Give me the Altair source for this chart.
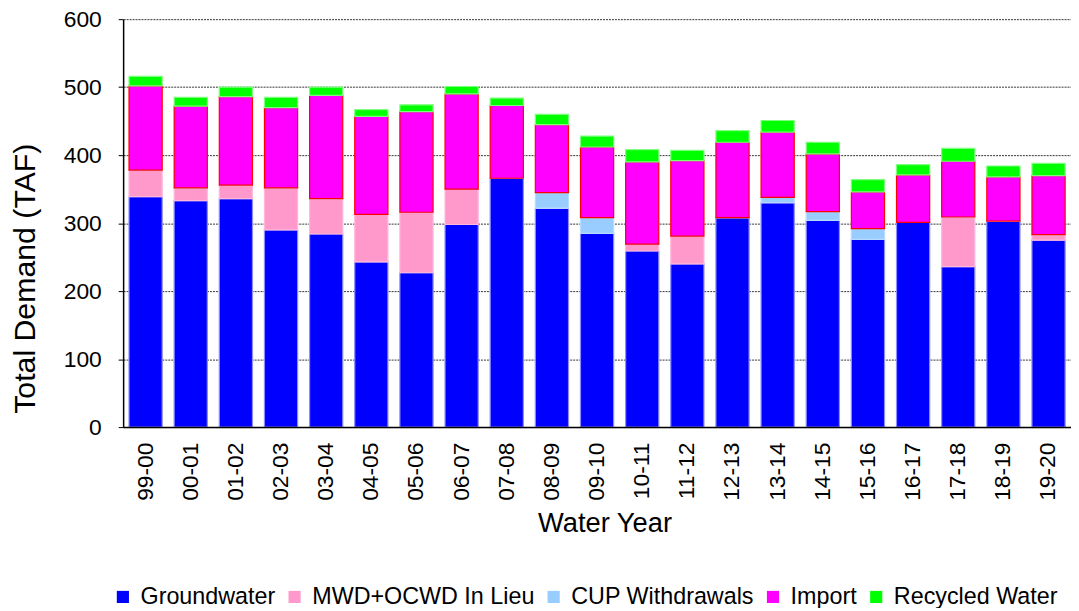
import altair as alt
import pandas as pd

years = ["99-00", "00-01", "01-02", "02-03", "03-04", "04-05", "05-06", "06-07",
         "07-08", "08-09", "09-10", "10-11", "11-12", "12-13", "13-14", "14-15",
         "15-16", "16-17", "17-18", "18-19", "19-20"]
groundwater = [339, 333, 336, 290, 284, 243, 227, 298, 366, 322, 285, 259, 240, 308, 330, 304, 276, 301, 236, 303, 275]
in_lieu = [39, 19, 20, 62, 52, 70, 89, 52, 0, 0, 0, 10, 41, 0, 0, 0, 0, 0, 73, 0, 8]
cup = [0, 0, 0, 0, 0, 0, 0, 0, 0, 23, 23, 0, 0, 0, 8, 13, 16, 0, 0, 0, 0]
imports = [124, 120, 130, 118, 152, 144, 148, 140, 107, 100, 104, 121, 111, 111, 96, 85, 54, 70, 82, 65, 87]
recycled = [14, 13, 14, 15, 12, 10, 10, 11, 11, 15, 16, 18, 15, 17, 17, 17, 18, 15, 19, 16, 18]

series_names = ["Groundwater", "MWD+OCWD In Lieu", "CUP Withdrawals", "Import", "Recycled Water"]
series_values = [groundwater, in_lieu, cup, imports, recycled]
fill_colors = ["#0000FF", "#FF99CC", "#99CCFF", "#FF00FF", "#00FF00"]
stroke_colors = ["#8c8cff", "#ffb8dc", "#b8dcff", "#FF0000", "#7dff7d"]

rows = []
for idx, (name, vals) in enumerate(zip(series_names, series_values)):
    for yr, v in zip(years, vals):
        rows.append({"year": yr, "series": name, "value": v, "idx": idx})
df = pd.DataFrame(rows)

FONT = "Liberation Sans"

chart = alt.Chart(df).mark_bar(strokeWidth=1.2).encode(
    x=alt.X("year:N", sort=years,
            scale=alt.Scale(paddingInner=0.265, paddingOuter=0.13),
            axis=alt.Axis(title="Water Year", labelAngle=-90, ticks=False, tickSize=0,
                          labelPadding=15, labelFontSize=23, titleFontSize=27.5,
                          titlePadding=9, titleFontWeight="normal",
                          titleX=485, titleAlign="center",
                          domainColor="black", domainWidth=1.5, zindex=1,
                          labelColor="black", titleColor="black")),
    y=alt.Y("value:Q", stack="zero",
            scale=alt.Scale(domain=[0, 600], nice=False),
            axis=alt.Axis(title="Total Demand (TAF)", values=[0, 100, 200, 300, 400, 500, 600],
                          tickSize=5, tickColor="black", labelPadding=17,
                          labelFontSize=23, titleFontSize=30.5, titlePadding=23,
                          titleY=261, titleAlign="center",
                          titleFontWeight="normal", domainColor="black", domainWidth=1.5,
                          grid=True, gridColor="#333333", gridDash=[2, 1], gridWidth=1,
                          labelColor="black", titleColor="black")),
    color=alt.Color("series:N", sort=series_names,
                    scale=alt.Scale(domain=series_names, range=fill_colors),
                    legend=alt.Legend(title=None, orient="none", legendX=-12, legendY=570,
                                      direction="horizontal", symbolType="square",
                                      symbolSize=150, symbolStrokeWidth=0,
                                      labelFontSize=23.5, labelOffset=6, columnPadding=7,
                                      labelLimit=500, labelColor="black")),
    stroke=alt.Stroke("series:N", scale=alt.Scale(domain=series_names, range=stroke_colors),
                      legend=None),
    order=alt.Order("idx:Q", sort="ascending"),
).properties(
    width=955,
    height=411,
    autosize=alt.AutoSizeParams(type="none"),
    padding={"left": 116, "top": 9, "right": 0, "bottom": 180},
).configure(
    font=FONT,
).configure_view(stroke=None)

chart.save("out.html", embed_options={"renderer": "svg", "actions": False})
